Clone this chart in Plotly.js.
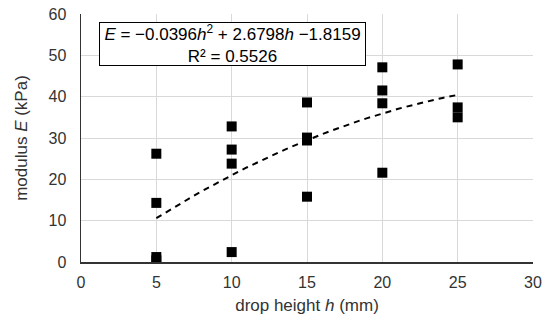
<!DOCTYPE html>
<html>
<head>
<meta charset="utf-8">
<script src="https://cdn.plot.ly/plotly-3.0.1.min.js"></script>
<style>html,body{margin:0;padding:0;background:#fff;}#chart{width:550px;height:324px;}</style>
</head>
<body>
<div id="chart"></div>
<script>
// Measured data: drop height h (mm) and modulus E (kPa)
const dropHeight = [5, 5, 5, 5, 10, 10, 10, 10, 15, 15, 15, 15, 20, 20, 20, 20, 25, 25, 25];
const modulusE   = [26.2, 14.3, 1.2, 0.4, 32.8, 27.2, 23.8, 2.4, 38.6, 30.1, 29.4, 15.8, 47.1, 41.5, 38.4, 21.6, 47.8, 37.4, 35.0];

// Polynomial trendline coefficients as printed on the chart: E = a*h^2 + b*h + c
const trendCoeffs = [-0.0396, 2.6798, -1.8159];
const trendRange = [5, 25];

const xTicks = [0, 5, 10, 15, 20, 25, 30];
const yTicks = [0, 10, 20, 30, 40, 50, 60];

const trendX = [];
const trendY = [];
for (let i = 0; i <= 40; i++) {
  const h = trendRange[0] + (trendRange[1] - trendRange[0]) * i / 40;
  trendX.push(h);
  trendY.push(trendCoeffs[0] * h * h + trendCoeffs[1] * h + trendCoeffs[2]);
}

const font = 'Liberation Sans, Arial, sans-serif';

const data = [
  {
    x: trendX, y: trendY, mode: 'lines', type: 'scatter',
    line: {color: '#000', width: 2, dash: '6px,5px'},
    hoverinfo: 'skip'
  },
  {
    x: dropHeight, y: modulusE, mode: 'markers', type: 'scatter',
    marker: {symbol: 'square', size: 10, color: '#000'}
  }
];

const layout = {
  width: 550, height: 324,
  margin: {l: 81, r: 17, t: 14, b: 62},
  paper_bgcolor: '#fff', plot_bgcolor: '#fff',
  showlegend: false,
  font: {family: font, color: '#333', size: 16},
  xaxis: {
    range: [0, 30], tickvals: xTicks, ticktext: xTicks.map(String),
    showgrid: true, gridcolor: '#d9d9d9', gridwidth: 1,
    zeroline: false, showline: true, linecolor: '#333', linewidth: 1.5,
    ticks: '', ticklabelstandoff: 5, tickfont: {size: 16, color: '#333'},
    title: {text: 'drop height <i>h</i> (mm)', font: {size: 17, color: '#333'}, standoff: 9}
  },
  yaxis: {
    range: [0, 60], tickvals: yTicks, ticktext: yTicks.map(String),
    showgrid: true, gridcolor: '#d9d9d9', gridwidth: 1,
    zeroline: false, showline: true, linecolor: '#333', linewidth: 1.5,
    ticks: '', ticklabelstandoff: 10, tickfont: {size: 16, color: '#333'},
    title: {text: 'modulus <i>E</i> (kPa)', font: {size: 17, color: '#333'}, standoff: 16}
  },
  annotations: [{
    xref: 'paper', yref: 'paper', x: 0.335, y: 0.879,
    xanchor: 'center', yanchor: 'middle', align: 'center', showarrow: false,
    width: 263, height: 40,
    text: '<i>E</i> = −0.0396<i>h</i><sup>2</sup> + 2.6798<i>h</i> −1.8159<br>R² = 0.5526',
    font: {family: font, size: 17, color: '#000'},
    bgcolor: '#fff', bordercolor: '#000', borderwidth: 1, borderpad: 1
  }]
};

Plotly.newPlot('chart', data, layout, {displayModeBar: false, staticPlot: true});
</script>
</body>
</html>
